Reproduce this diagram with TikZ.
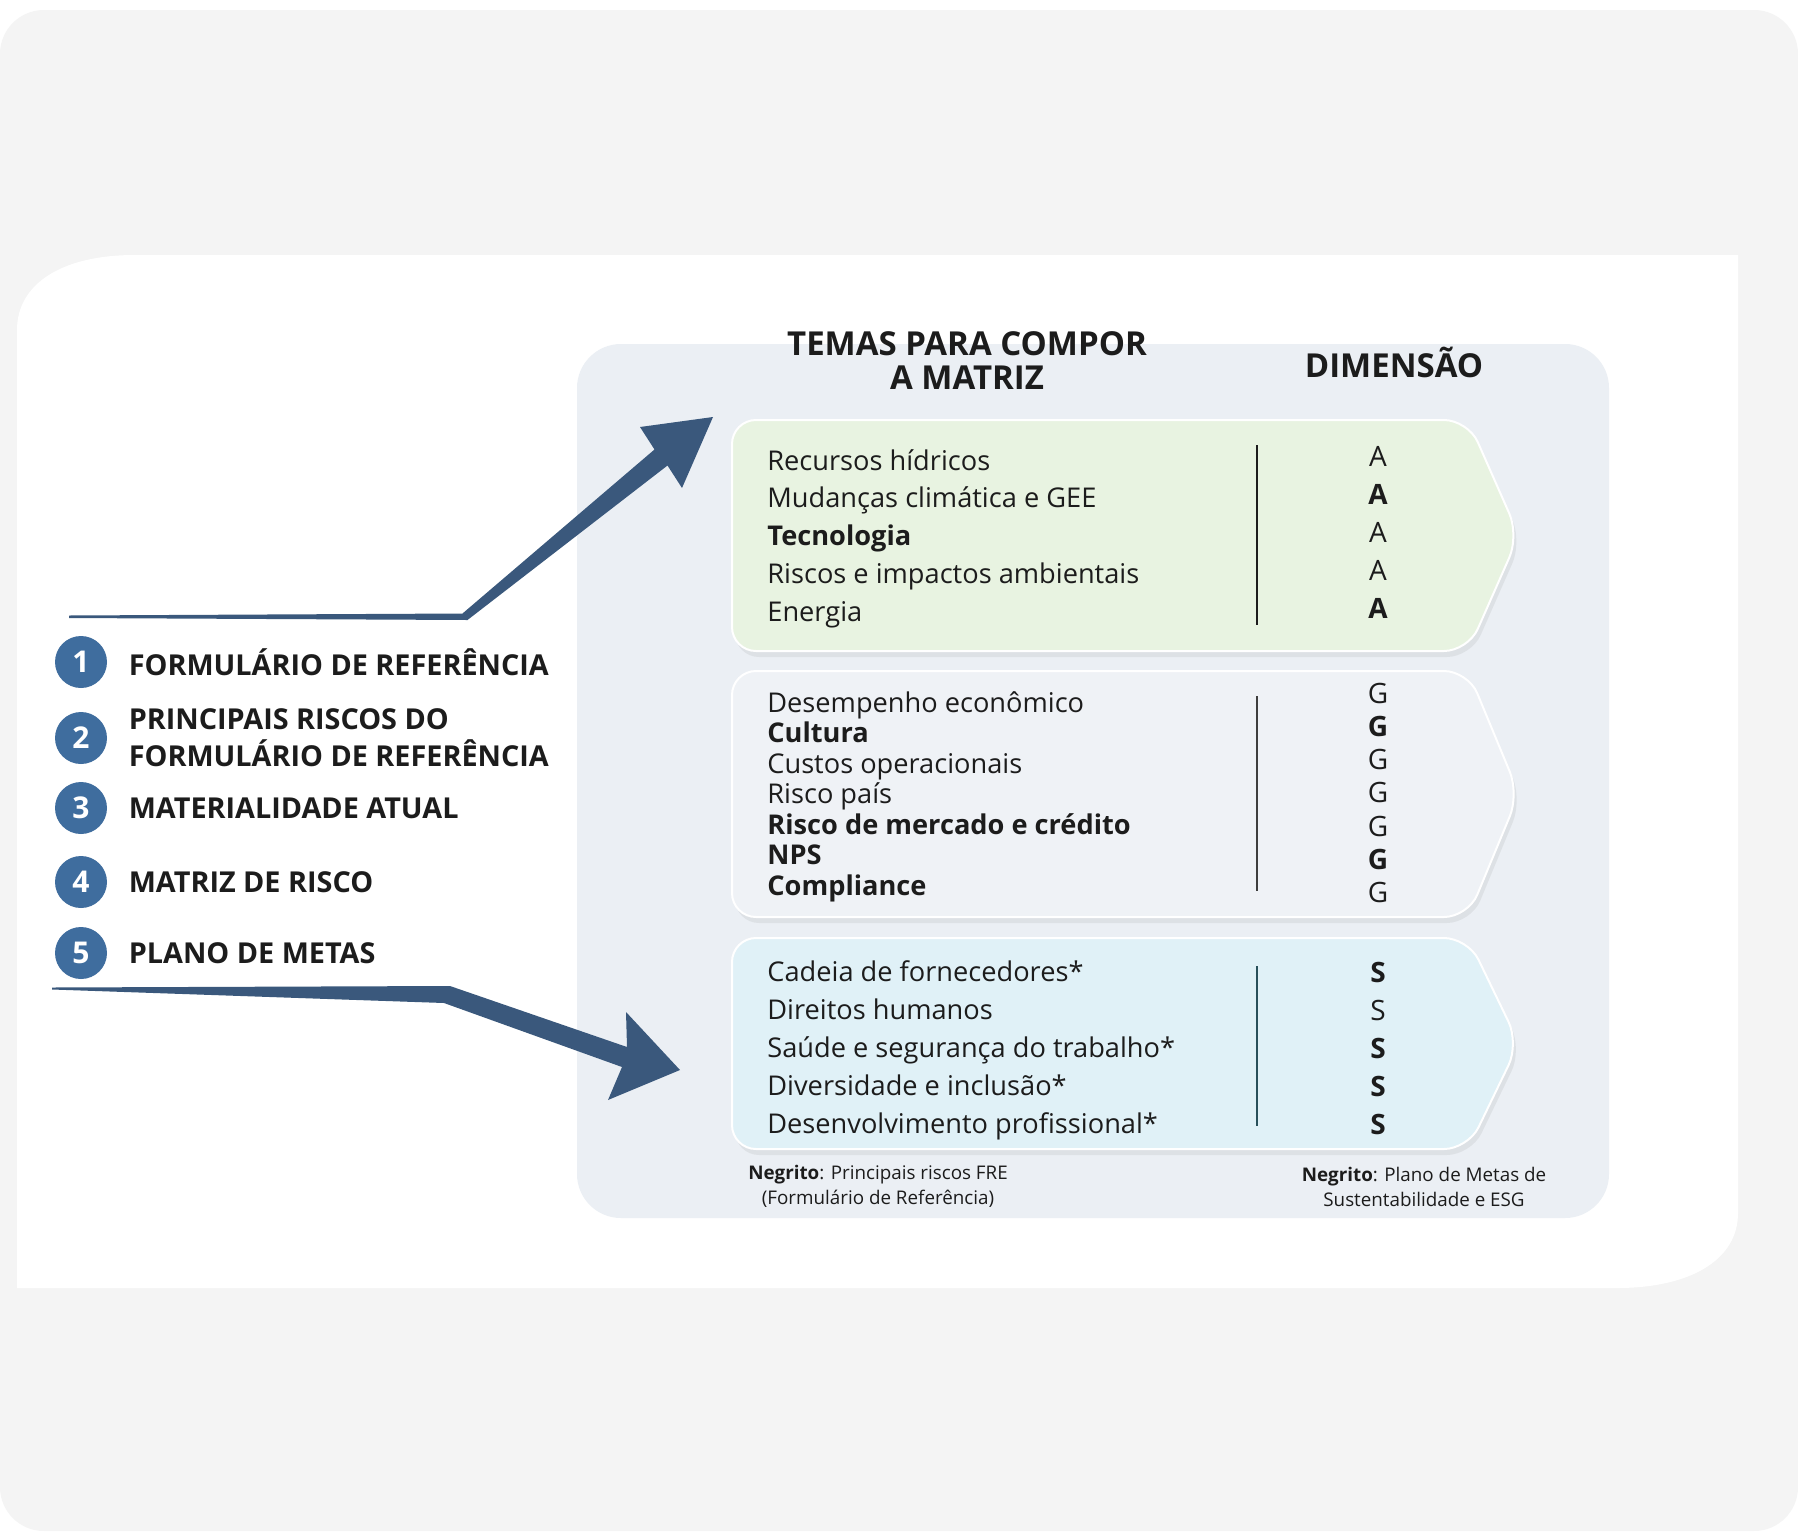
\documentclass[tikz,border=0pt]{standalone}
\usepackage{fontspec}
\setmainfont{Open Sans}
\usetikzlibrary{positioning,shadows}

\definecolor{pagegray}{RGB}{244,244,244}
\definecolor{panelblue}{RGB}{235,239,244}
\definecolor{ambgreen}{RGB}{232,243,225}
\definecolor{govgray}{RGB}{239,242,246}
\definecolor{socblue}{RGB}{224,241,247}
\definecolor{numblue}{RGB}{63,109,158}
\definecolor{arrowblue}{RGB}{58,88,124}
\definecolor{ink}{RGB}{28,28,28}

\tikzset{
  head/.style={font=\fontsize{16.5}{17}\selectfont\bfseries, text=ink, align=center, inner sep=0},
  item/.style={font=\fontsize{13.6}{16}\selectfont, text=ink, anchor=base west, inner sep=0},
  letter/.style={font=\fontsize{14}{16}\selectfont, text=ink, anchor=base, inner sep=0},
  card/.style={draw=white, line width=1pt, rounded corners=12pt,
    drop shadow={shadow xshift=1.5pt, shadow yshift=-3pt, opacity=.12}},
  divider/.style={line width=1.2pt},
  num/.style={circle, fill=numblue, minimum size=26pt, inner sep=0, text=white,
    font=\fontsize{15}{15}\selectfont\bfseries},
  topic/.style={font=\fontsize{14.4}{18.5}\selectfont\bfseries, text=ink, align=left, inner sep=0},
  note/.style={font=\fontsize{9.4}{12.5}\selectfont, text=ink, align=center, inner sep=0},
  arrowfill/.style={fill=arrowblue}
}

\begin{document}
\begin{tikzpicture}[x=0.5pt, y=-0.5pt]
	\useasboundingbox (0,0) rectangle (1798,1531);

	% Background
	\fill[white] (0,0) rectangle (1798,1531);
	\fill[pagegray, rounded corners=22pt] (0,10) rectangle (1798,1531);
	\fill[white] (17,330) .. controls (17,285) and (60,255) .. (135,255) -- (1738,255)
		-- (1738,1213) .. controls (1738,1260) and (1690,1288) .. (1617,1288) -- (17,1288) -- cycle;
	\path[fill=panelblue, rounded corners=22pt] (577,344) rectangle (1609,1218);

	% Headings
	\node[head] (temas) at (967,361) {TEMAS PARA COMPOR\\A MATRIZ};
	\node[head] (dim) at (1394,362) {DIMENSÃO};

	% Cards
	\path[card, fill=ambgreen] (732,420) -- (1468,420) -- (1519,535.5) -- (1468,651) -- (732,651) -- cycle;
	\path[card, fill=govgray] (732,671) -- (1468,671) -- (1519,794) -- (1468,917) -- (732,917) -- cycle;
	\path[card, fill=socblue] (732,938) -- (1468,938) -- (1519,1043.5) -- (1468,1149) -- (732,1149) -- cycle;

	% Ambiental
	\foreach \txt [count=\i] in {Recursos hídricos, Mudanças climática e GEE, \textbf{Tecnologia},
		Riscos e impactos ambientais, Energia}
		\node[item] (amb\i) at (767,{432.2+37.8*\i}) {\txt};
	\foreach \d [count=\i] in {A,\textbf{A},A,A,\textbf{A}}
		\node[letter] (ambdim\i) at (1378,{429+37.8*\i}) {\d};
	\draw[divider, draw=ink] (1257,445) -- (1257,625);

	% Governanca
	\foreach \txt [count=\i] in {Desempenho econômico, \textbf{Cultura}, Custos operacionais, Risco país,
		\textbf{Risco de mercado e crédito}, \textbf{NPS}, \textbf{Compliance}}
		\node[item] (gov\i) at (767,{681.5+30.5*\i}) {\txt};
	\foreach \d [count=\i] in {G,\textbf{G},G,G,G,\textbf{G},G}
		\node[letter] (govdim\i) at (1378,{670+33.2*\i}) {\d};
	\draw[divider, draw=ink!85] (1257,696) -- (1257,891);

	% Social
	\foreach \txt [count=\i] in {Cadeia de fornecedores*, Direitos humanos, Saúde e segurança do trabalho*,
		Diversidade e inclusão*, Desenvolvimento profissional*}
		\node[item] (soc\i) at (767,{943+38*\i}) {\txt};
	\foreach \d [count=\i] in {\textbf{S},S,\textbf{S},\textbf{S},\textbf{S}}
		\node[letter] (socdim\i) at (1378,{944+38*\i}) {\d};
	\draw[divider, draw={rgb,255:red,40;green,80;blue,90}] (1257,966) -- (1257,1126);

	% Notes
	\node[note] (negL) at (878,1186.5) {\textbf{Negrito}: Principais riscos FRE\\(Formulário de Referência)};
	\node[note] (negR) at (1424,1186.5) {\textbf{Negrito}: Plano de Metas de\\Sustentabilidade e ESG};

	% Sources
	\node[num] (n1) at (81,662) {1};
	\node[num] (n2) at (81,738) {2};
	\node[num] (n3) at (81,808) {3};
	\node[num] (n4) at (81,882) {4};
	\node[num] (n5) at (81,953) {5};
	\node[topic, right=10.5pt of n1] (t1) {FORMULÁRIO DE REFERÊNCIA};
	\node[topic, right=10.5pt of n2] (t2) {PRINCIPAIS RISCOS DO\\FORMULÁRIO DE REFERÊNCIA};
	\node[topic, right=10.5pt of n3] (t3) {MATERIALIDADE ATUAL};
	\node[topic, right=10.5pt of n4] (t4) {MATRIZ DE RISCO};
	\node[topic, right=10.5pt of n5] (t5) {PLANO DE METAS};

	% Arrows
	\coordinate (uptip) at (713,417);
	\coordinate (lowtip) at (680,1070);
	\fill[arrowfill] (69,615.5) -- (462.5,613.5) -- (654.5,449.5) -- (640,427) -- (uptip)
		-- (682,488) -- (667.5,465.5) -- (467.5,620) -- (69,618) -- cycle;
	\fill[arrowfill] (52,987.5) -- (450,986) -- (627,1047) -- (626,1012) -- (lowtip)
		-- (608,1100) -- (622,1067) -- (444,1003) -- (52,989.5) -- cycle;
\end{tikzpicture}
\end{document}
